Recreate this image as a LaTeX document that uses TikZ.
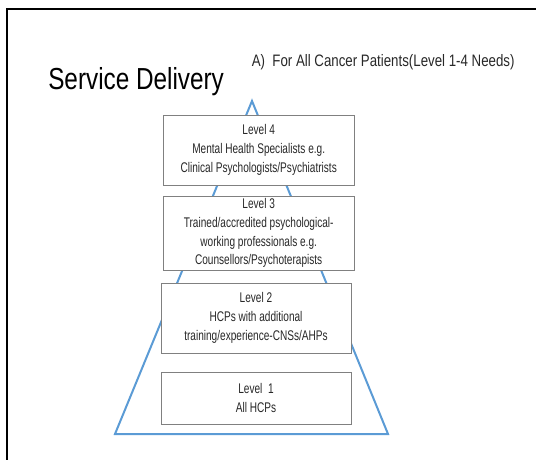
\documentclass[tikz,border=0pt]{standalone}
\usepackage{fontspec}
\setmainfont{Liberation Sans}[FakeStretch=0.8]
\newfontfamily\boxfont{Liberation Sans}[FakeStretch=0.72]
\definecolor{triblue}{RGB}{91,155,213}
\definecolor{boxgray}{RGB}{128,128,128}
\definecolor{txt}{RGB}{40,40,40}
\begin{document}
\begin{tikzpicture}[x=0.75pt,y=-0.75pt,
  levelbox/.style={draw=boxgray,line width=0.6pt,fill=white,align=center,
    font=\boxfont\fontsize{10.5}{14}\selectfont,text=txt,inner sep=0pt},
  tri/.style={draw=triblue,line width=1.5pt,line join=miter}]
\useasboundingbox (0,0) rectangle (536,460);
\draw[line width=1.5pt] (6.5,460) -- (6.5,9.5) -- (536,9.5);
\node[anchor=base west,font=\fontsize{22.8}{26}\selectfont,text=black,inner sep=0pt] (title) at (48,90) {Service Delivery};
\node[anchor=base west,font=\fontsize{12.45}{15}\selectfont,text=txt,inner sep=0pt] (sub) at (251.5,66.5) {A)\ \ For All Cancer Patients(Level 1-4 Needs)};
\coordinate (apex) at (252,101);
\coordinate (bl) at (115,434);
\coordinate (br) at (388,434);
\draw[tri] (apex) -- (bl) -- (br) -- cycle;
\node[levelbox,minimum width=143pt,minimum height=52.5pt] (l4) at (258.7,150) {Level 4\\Mental Health Specialists e.g.\\Clinical Psychologists/Psychiatrists};
\node[levelbox,minimum width=143pt,minimum height=55.5pt,text depth=2.5pt] (l3) at (258.7,233.5) {Level 3\\Trained/accredited psychological-\\working professionals e.g.\\Counsellors/Psychoterapists};
\node[levelbox,minimum width=142.5pt,minimum height=52.5pt] (l2) at (256,318) {Level 2\\HCPs with additional\\training/experience-CNSs/AHPs};
\node[levelbox,minimum width=142.5pt,minimum height=39pt] (l1) at (256,398) {Level\ \ 1\\All HCPs};
\end{tikzpicture}
\end{document}
